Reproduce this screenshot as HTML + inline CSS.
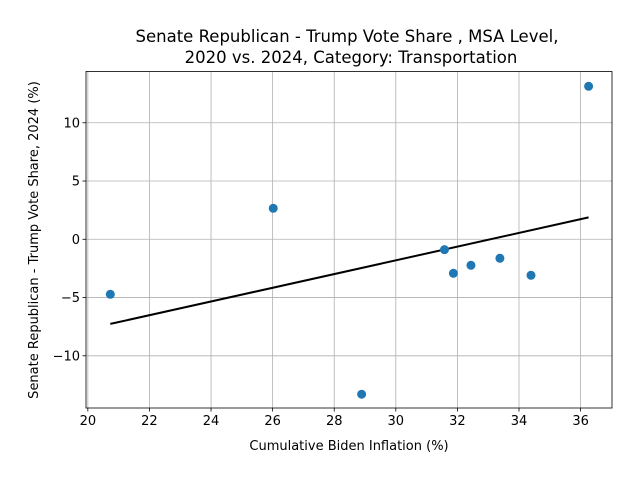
<!DOCTYPE html>
<html><head><meta charset="utf-8"><style>
body{margin:0;background:#fff;}
svg text{font-family:"DejaVu Sans","Liberation Sans",sans-serif;fill:#000;}
</style></head><body>
<svg id="chart" width="640" height="480">
<rect width="640" height="480" fill="#fff"/>
<text x="347" y="42" font-size="16.5" text-anchor="middle">Senate Republican - Trump Vote Share , MSA Level,</text>
<text x="351" y="63" font-size="16.5" text-anchor="middle">2020 vs. 2024, Category: Transportation</text>
<g id="grid"></g><g id="marks"></g><g id="axes"></g>
<text x="349" y="450" font-size="13" text-anchor="middle">Cumulative Biden Inflation (%)</text>
<text transform="translate(38,240) rotate(-90)" font-size="13" text-anchor="middle">Senate Republican - Trump Vote Share, 2024 (%)</text>
</svg>
<script>
const xValues=[20.73,26.02,28.89,31.58,31.87,32.44,33.38,34.39,36.26];
const yValues=[-4.72,2.66,-13.3,-0.89,-2.92,-2.23,-1.63,-3.09,13.13];
const xTicks=[20,22,24,26,28,30,32,34,36];
const yTicks=[-10,-5,0,5,10];
const L=86,R=612,T=71.5,B=408;
const xMin=19.94,xMax=37.02,yMin=-14.48,yMax=14.4;
const sx=v=>L+(v-xMin)/(xMax-xMin)*(R-L);
const sy=v=>B-(v-yMin)/(yMax-yMin)*(B-T);
const NS='http://www.w3.org/2000/svg';
function mk(p,t,a){const e=document.createElementNS(NS,t);for(const k in a)e.setAttribute(k,a[k]);p.appendChild(e);return e;}
const grid=document.getElementById('grid'),marks=document.getElementById('marks'),axes=document.getElementById('axes');
const fmt=t=>t<0?'\u2212'+Math.abs(t):String(t);
xTicks.forEach(t=>{const x=sx(t);
 const g=mk(grid,'line',{x1:x,x2:x,y1:T,y2:B,stroke:'#b0b0b0','stroke-width':0.8});
 
 
 mk(axes,'line',{x1:x,x2:x,y1:B,y2:B+3.5,stroke:'#000','stroke-width':0.8});
 const tx=mk(axes,'text',{x:x,y:B+17,'font-size':13,'text-anchor':'middle'});tx.textContent=fmt(t);
 
 });
yTicks.forEach(t=>{const y=sy(t);
 const g=mk(grid,'line',{x1:L,x2:R,y1:y,y2:y,stroke:'#b0b0b0','stroke-width':0.8});
 
 
 mk(axes,'line',{x1:L-3.5,x2:L,y1:y,y2:y,stroke:'#000','stroke-width':0.8});
 const tx=mk(axes,'text',{x:L-6,y:y+4.5,'font-size':13,'text-anchor':'end'});tx.textContent=fmt(t);
 
 });
const fr=mk(axes,'rect',{x:L,y:T,width:R-L,height:B-T,fill:'none',stroke:'#000','stroke-width':0.8});


const n=xValues.length;const mx=xValues.reduce((a,b)=>a+b)/n,my=yValues.reduce((a,b)=>a+b)/n;
let sxy=0,sxx=0;for(let i=0;i<n;i++){sxy+=(xValues[i]-mx)*(yValues[i]-my);sxx+=(xValues[i]-mx)**2;}
const m=sxy/sxx,b=my-m*mx;const x0=Math.min(...xValues),x1=Math.max(...xValues);
const ln=mk(marks,'line',{x1:sx(x0),y1:sy(m*x0+b),x2:sx(x1),y2:sy(m*x1+b),stroke:'#000','stroke-width':2});


xValues.forEach((v,i)=>{const c=mk(marks,'circle',{cx:sx(v),cy:sy(yValues[i]),r:4.5,fill:'#1f77b4'});
 
 });
</script>
</body></html>
